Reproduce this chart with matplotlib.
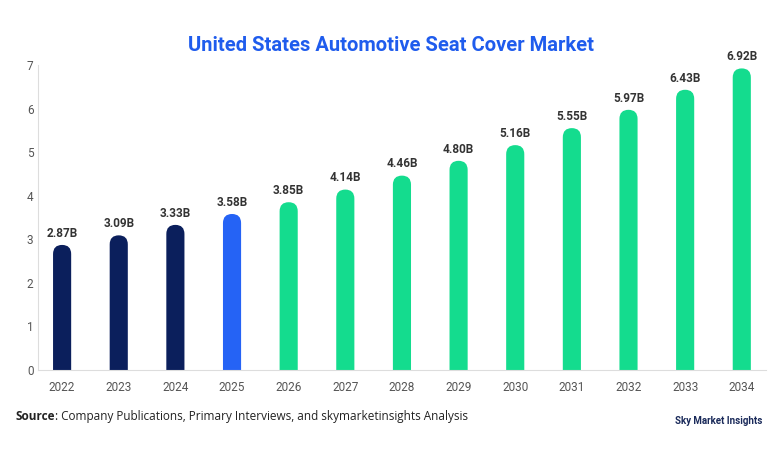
import matplotlib.pyplot as plt
from matplotlib.patches import FancyBboxPatch

years = ["2022", "2023", "2024", "2025", "2026", "2027", "2028", "2029",
         "2030", "2031", "2032", "2033", "2034"]
values = [2.87, 3.09, 3.33, 3.58, 3.85, 4.14, 4.46, 4.80, 5.16, 5.55, 5.97, 6.43, 6.92]
colors = ["#0b1f5c"] * 3 + ["#2563f5"] + ["#14dc8e"] * 9

plt.rcParams['font.family'] = ['Roboto', 'DejaVu Sans']

fig = plt.figure(figsize=(7.82, 4.54), dpi=100)
ax = fig.add_axes([0.049, 0.185, 0.93, 0.672])

x = list(range(len(years)))
ax.set_xlim(-0.42, len(years) - 0.58)
ax.set_ylim(0, 7)

bw = 0.32
# rounding aspect: data-y per pixel / data-x per pixel
ax_w = 0.93 * 782
ax_h = 0.672 * 454
aspect = (7 / ax_h) / ((len(years) - 0.16) / ax_w)
for xi, v, c in zip(x, values, colors):
    p = FancyBboxPatch((xi - bw / 2, -0.5), bw, v + 0.5,
                       boxstyle="round,pad=0,rounding_size=%f" % (bw / 2),
                       mutation_aspect=aspect, facecolor=c, edgecolor="none")
    ax.add_patch(p)
    ax.text(xi, v + 0.12, f"{v:.2f}B", ha="center", va="bottom",
            fontsize=8.5, fontweight="bold", color="#333333")

ax.set_xticks(x)
ax.set_xticklabels(years)
ax.set_yticks(range(8))
ax.tick_params(axis="both", length=0, labelsize=8.5, colors="#555555")
ax.tick_params(axis="x", pad=8)
for s in ["top", "right"]:
    ax.spines[s].set_visible(False)
ax.spines["left"].set_color("#dddddd")
ax.spines["bottom"].set_color("#dddddd")

fig.text(0.5, 0.90, "United States Automotive Seat Cover Market", ha="center",
         va="center", fontsize=14.5, fontweight="bold", color="#1f5ced")
src = fig.text(0.02, 0.075, "Source", fontsize=8.5, fontweight="bold",
               color="#222222", family="Open Sans")
fig.canvas.draw()
bb = src.get_window_extent().transformed(fig.transFigure.inverted())
fig.text(bb.x1, 0.075, ": Company Publications, Primary Interviews, and skymarketinsights Analysis",
         fontsize=8.5, color="#222222", family="Open Sans")
fig.text(0.975, 0.065, "Sky Market Insights", ha="right", fontsize=7,
         fontweight="bold", color="#1a2a5a")

fig.savefig("out.png", dpi=100)
